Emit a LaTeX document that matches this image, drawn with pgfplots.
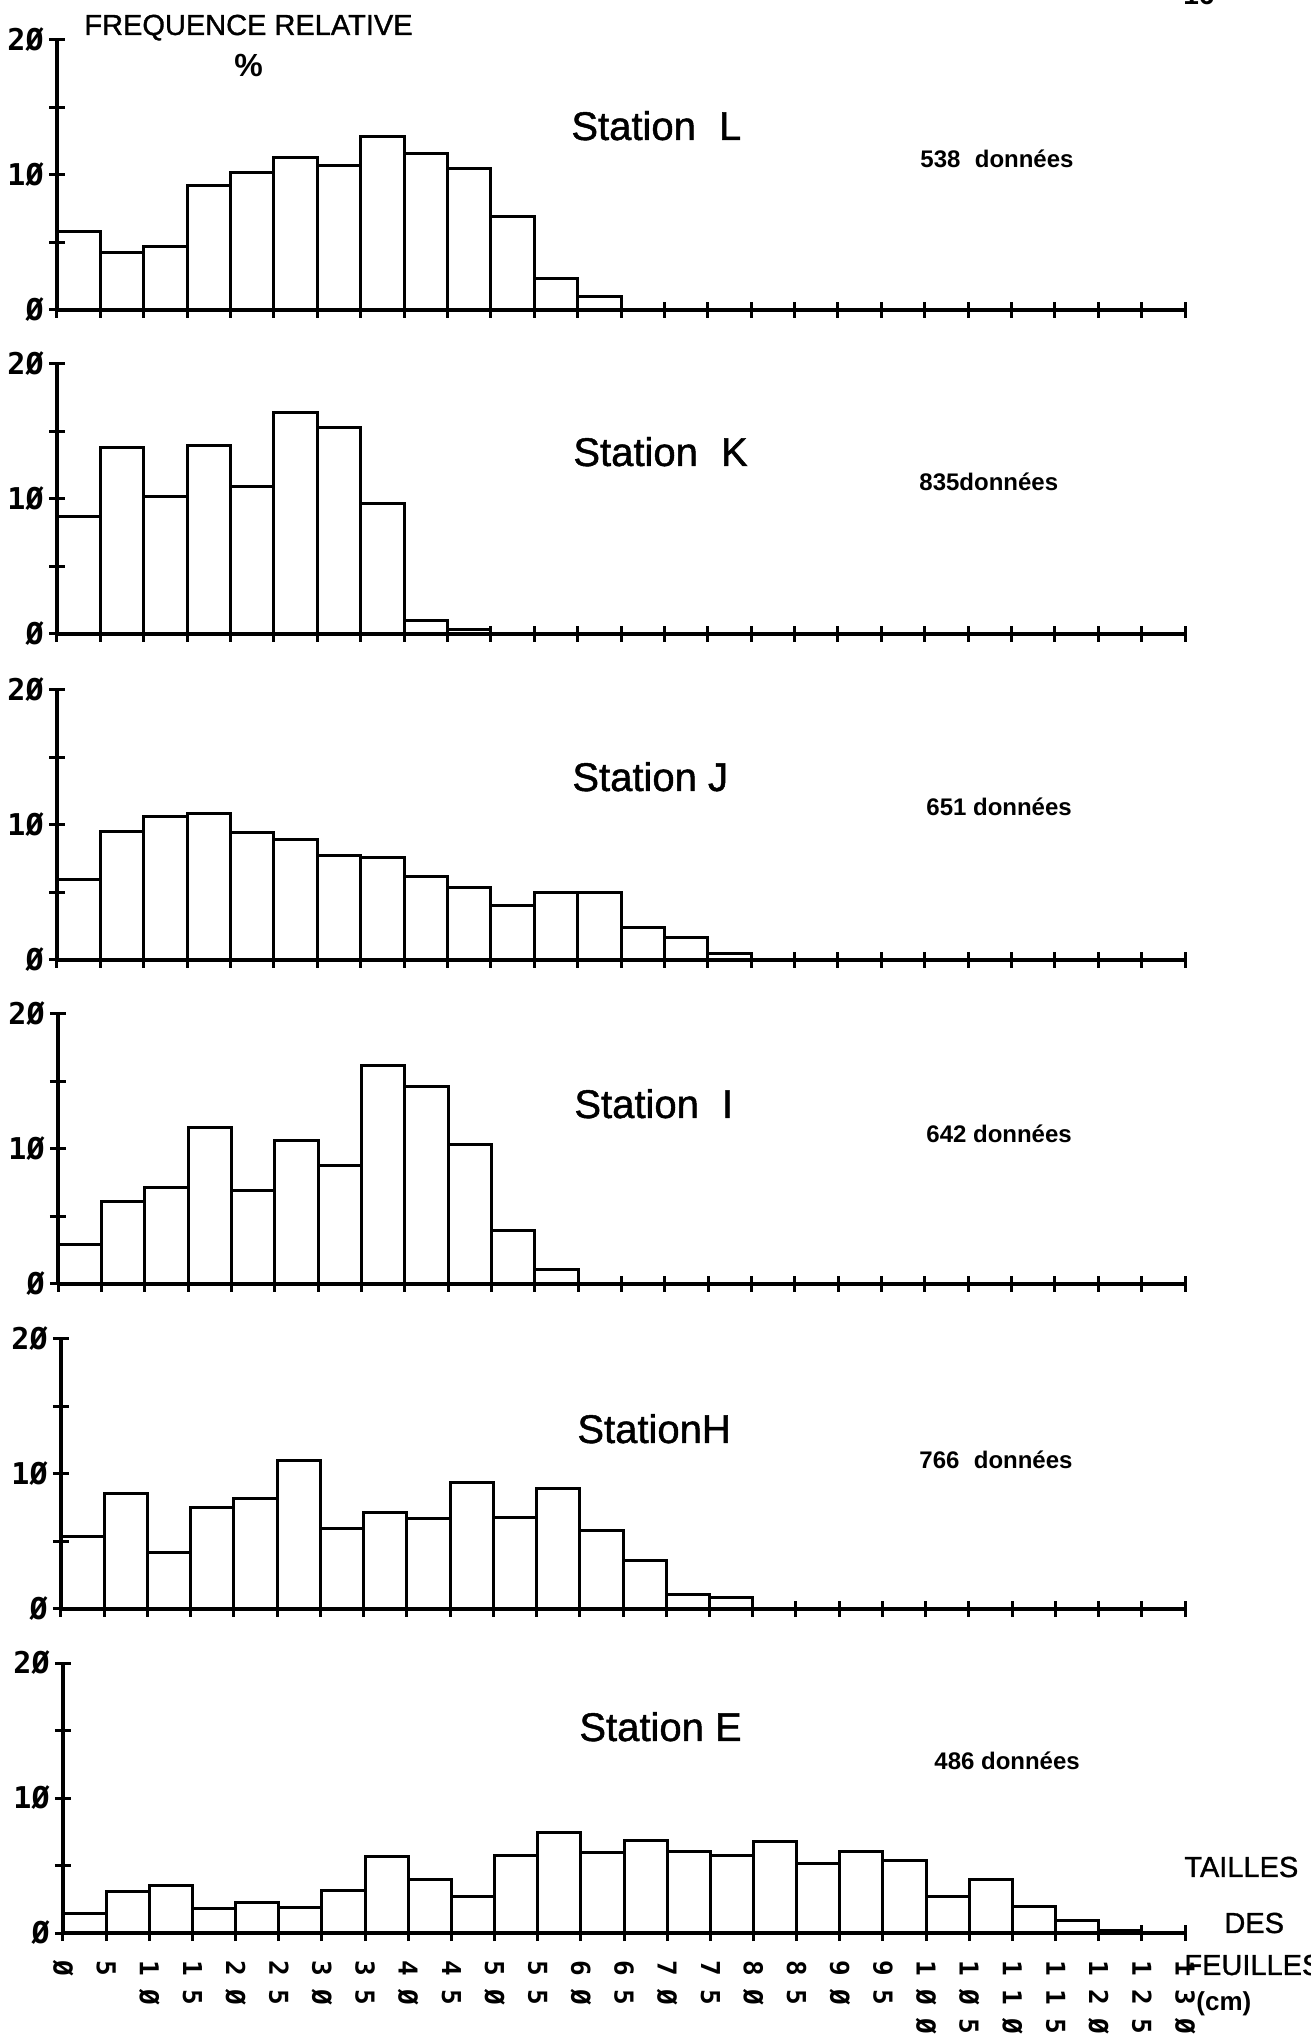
\documentclass[border=0pt]{standalone}
\usepackage{pgfplots}
\pgfplotsset{compat=1.18}
\usepackage{fontspec}
\setmainfont{Liberation Sans}
\newfontfamily\med{Liberation Sans}[FakeBold=1.2]
\newfontfamily\mono{DejaVu Sans Mono}
% one character of the rotated size labels, letter-spaced like the plotter
\newcommand\q[1]{\makebox[14.5pt][c]{#1}}

\pgfplotsset{
  panel/.style={
    scale only axis, width=#1, height=135pt,
    anchor=south west,
    xmin=0, xmax=130, ymin=0, ymax=20,
    enlargelimits=false,
    axis lines*=left,
    axis line style={line width=2pt, black},
    axis on top,
    tick align=center,
    major tick length=8pt,
    tick style={line width=1.5pt, black},
    xtick={0,5,...,130},
    ytick={0,5,10,15,20},
    yticklabels={Ø,,1Ø,,2Ø},
    xticklabels={},
    yticklabel style={font=\fontsize{15pt}{15pt}\mono\bfseries, inner sep=0pt, anchor=east},
    yticklabel shift=2.5pt,
  },
  bars/.style={ybar interval, fill=white, draw=black, line width=1.5pt},
}

\begin{document}
\begin{tikzpicture}
\path[use as bounding box] (0,0) rectangle (655.5pt,1020.5pt);

% Station L
\begin{axis}[panel=564pt, at={(28.5pt,865.5pt)}]
\addplot[bars] coordinates {(0,5.85) (5,4.27) (10,4.69) (15,9.21) (20,10.2) (25,11.28) (30,10.69)
  (35,12.84) (40,11.6) (45,10.49) (50,6.96) (55,2.35) (60,0.99) (65,0)};
\end{axis}

% Station K
\begin{axis}[panel=564pt, at={(28.5pt,703.5pt)}]
\addplot[bars] coordinates {(0,8.67) (5,13.78) (10,10.2) (15,13.98) (20,10.94) (25,16.42) (30,15.31)
  (35,9.63) (40,1.01) (45,0.35) (50,0)};
\end{axis}

% Station J
\begin{axis}[panel=564pt, at={(28.5pt,540.5pt)}]
\addplot[bars] coordinates {(0,5.95) (5,9.52) (10,10.65) (15,10.82) (20,9.42) (25,8.95) (30,7.75)
  (35,7.58) (40,6.2) (45,5.39) (50,4.01) (55,4.99) (60,4.99) (65,2.41) (70,1.7) (75,0.5) (80,0)};
\end{axis}

% Station I
\begin{axis}[panel=563.5pt, at={(29pt,378.5pt)}]
\addplot[bars] coordinates {(0,2.94) (5,6.1) (10,7.16) (15,11.58) (20,6.89) (25,10.62) (30,8.77)
  (35,16.17) (40,14.62) (45,10.3) (50,3.95) (55,1.11) (60,0)};
\end{axis}

% Station H
\begin{axis}[panel=562pt, at={(30.5pt,216pt)}]
\addplot[bars] coordinates {(0,5.36) (5,8.53) (10,4.2) (15,7.54) (20,8.16) (25,11.0) (30,5.93)
  (35,7.17) (40,6.67) (45,9.37) (50,6.8) (55,8.95) (60,5.81) (65,3.58) (70,1.1) (75,0.85) (80,0)};
\end{axis}

% Station E
\begin{axis}[panel=561pt, at={(31.5pt,54pt)},
  xticklabels={\q{Ø},\q{5},\q{1}\q{Ø},\q{1}\q{5},\q{2}\q{Ø},\q{2}\q{5},\q{3}\q{Ø},\q{3}\q{5},
    \q{4}\q{Ø},\q{4}\q{5},\q{5}\q{Ø},\q{5}\q{5},\q{6}\q{Ø},\q{6}\q{5},\q{7}\q{Ø},\q{7}\q{5},
    \q{8}\q{Ø},\q{8}\q{5},\q{9}\q{Ø},\q{9}\q{5},\q{1}\q{Ø}\q{Ø},\q{1}\q{Ø}\q{5},\q{1}\q{1}\q{Ø},
    \q{1}\q{1}\q{5},\q{1}\q{2}\q{Ø},\q{1}\q{2}\q{5},\q{1}\q{3}\q{Ø}},
  xticklabel style={rotate=-90, anchor=west, inner sep=0pt, font=\fontsize{13pt}{13pt}\mono\bfseries},
  xticklabel shift=6pt]
\addplot[bars] coordinates {(0,1.43) (5,3.11) (10,3.53) (15,1.85) (20,2.27) (25,1.88) (30,3.16)
  (35,5.63) (40,3.95) (45,2.67) (50,5.75) (55,7.48) (60,6.0) (65,6.86) (70,6.07) (75,5.75)
  (80,6.79) (85,5.14) (90,6.05) (95,5.38) (100,2.67) (105,3.95) (110,2.0) (115,0.94) (120,0.15) (125,0)};
\end{axis}

\begin{scope}[every node/.style={anchor=base west, inner sep=0pt}]
  \node[font=\fontsize{14.5pt}{16pt}\med] at (42pt,1003pt) {FREQUENCE RELATIVE};
  \node[font=\fontsize{16pt}{18pt}\selectfont\bfseries] at (117pt,982pt) {\%};
  \node[font=\fontsize{14pt}{16pt}\selectfont\bfseries] at (591.5pt,1018pt) {16};

  \node[font=\fontsize{20pt}{24pt}\med] at (285.5pt,950.5pt) {Station\hspace{0.3em} L};
  \node[font=\fontsize{20pt}{24pt}\med] at (286.5pt,787.5pt) {Station\hspace{0.3em} K};
  \node[font=\fontsize{20pt}{24pt}\med] at (286pt,625pt) {Station J};
  \node[font=\fontsize{20pt}{24pt}\med] at (287pt,461.5pt) {Station\hspace{0.3em} I};
  \node[font=\fontsize{20pt}{24pt}\med] at (288.5pt,299pt) {StationH};
  \node[font=\fontsize{20pt}{24pt}\med] at (289.5pt,150pt) {Station E};

  \node[font=\fontsize{12pt}{14pt}\selectfont\bfseries] at (460pt,936.5pt) {538\hspace{0.6em}données};
  \node[font=\fontsize{12pt}{14pt}\selectfont\bfseries] at (459.5pt,775pt) {835données};
  \node[font=\fontsize{12pt}{14pt}\selectfont\bfseries] at (463pt,612.5pt) {651 données};
  \node[font=\fontsize{12pt}{14pt}\selectfont\bfseries] at (463pt,449pt) {642 données};
  \node[font=\fontsize{12pt}{14pt}\selectfont\bfseries] at (459.5pt,286pt) {766\hspace{0.6em}données};
  \node[font=\fontsize{12pt}{14pt}\selectfont\bfseries] at (467pt,135.5pt) {486 données};

  \node[font=\fontsize{14.5pt}{16pt}\med] at (592pt,82pt) {TAILLES};
  \node[font=\fontsize{14.5pt}{16pt}\med] at (612pt,54pt) {DES};
  \node[font=\fontsize{14.5pt}{16pt}\med] at (592pt,33pt) {FEUILLES};
  \node[font=\fontsize{13pt}{15pt}\selectfont\bfseries] at (598pt,15pt) {(cm)};
\end{scope}
\end{tikzpicture}
\end{document}
